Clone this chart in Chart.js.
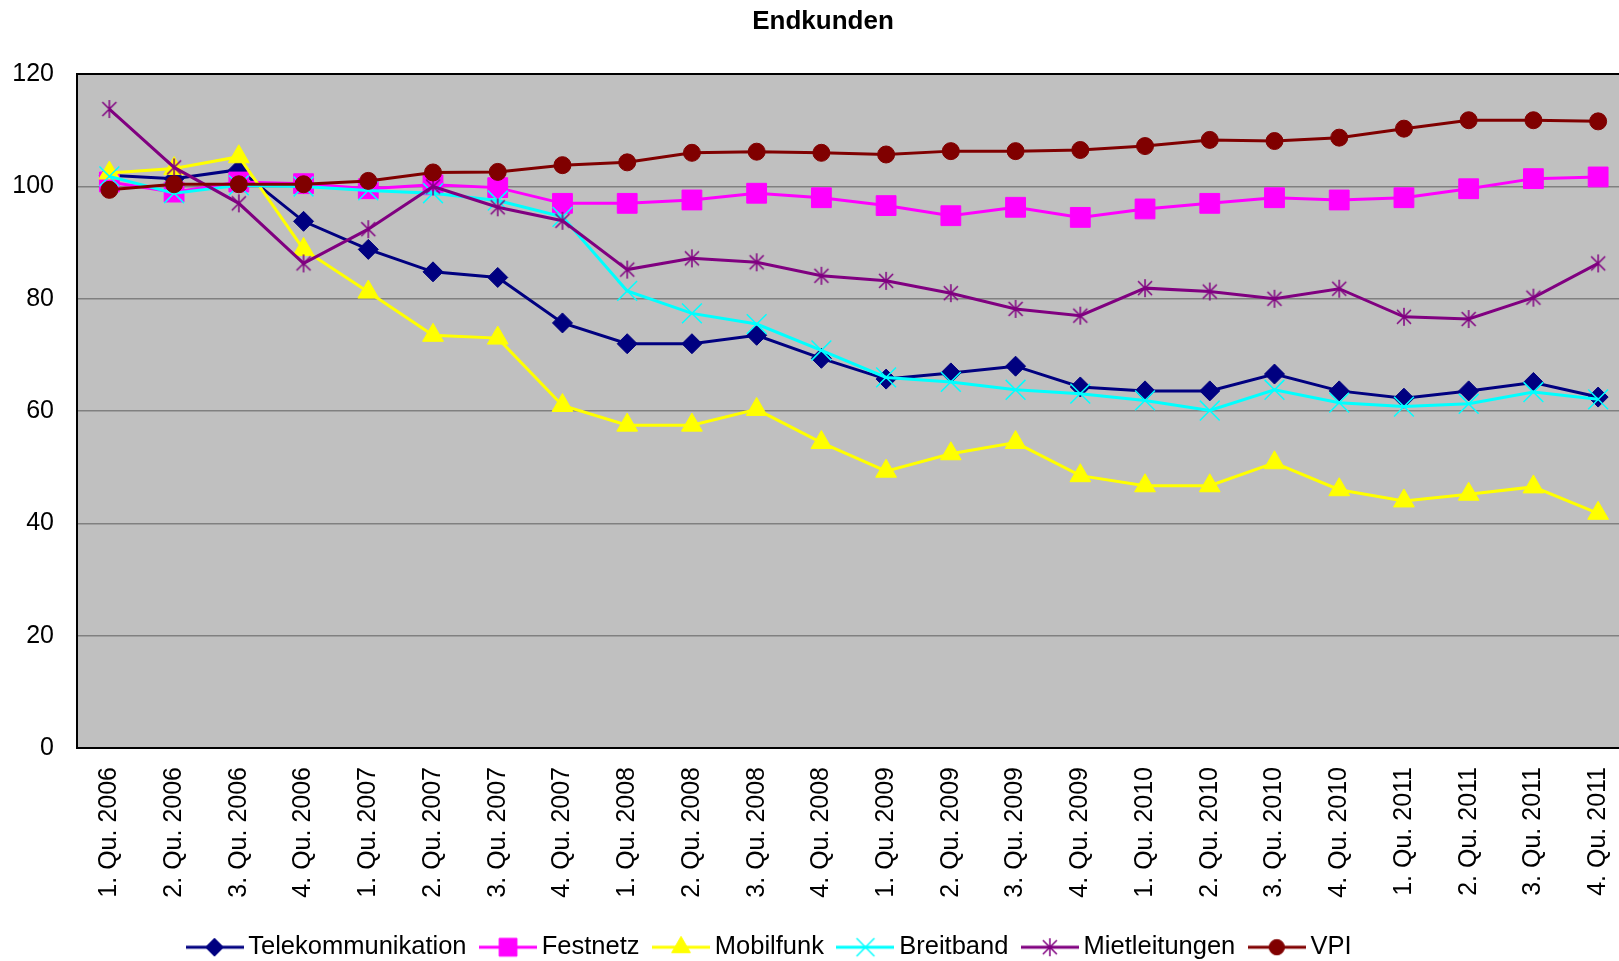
<!DOCTYPE html>
<html>
<head>
<meta charset="utf-8">
<title>Endkunden</title>
<script src="https://cdn.jsdelivr.net/npm/chart.js@4.4.1/dist/chart.umd.min.js"></script>
<style>
  html, body { margin: 0; padding: 0; background: #fff; overflow: hidden; }
  canvas { display: block; }
</style>
</head>
<body>
<canvas id="endkundenChart" width="1646" height="961"></canvas>
<script>
// Quartale 2006 - 2011, Index
const quarters = [
    '1. Qu. 2006', '2. Qu. 2006', '3. Qu. 2006', '4. Qu. 2006',
    '1. Qu. 2007', '2. Qu. 2007', '3. Qu. 2007', '4. Qu. 2007',
    '1. Qu. 2008', '2. Qu. 2008', '3. Qu. 2008', '4. Qu. 2008',
    '1. Qu. 2009', '2. Qu. 2009', '3. Qu. 2009', '4. Qu. 2009',
    '1. Qu. 2010', '2. Qu. 2010', '3. Qu. 2010', '4. Qu. 2010',
    '1. Qu. 2011', '2. Qu. 2011', '3. Qu. 2011', '4. Qu. 2011'
];

const telekommunikation = [102, 101.4, 103, 93.8, 88.8, 84.8, 83.8, 75.7, 72, 72, 73.5, 69.4,
    65.7, 66.8, 68, 64.3, 63.6, 63.6, 66.6, 63.6, 62.3, 63.6, 65.1, 62.5];
const festnetz = [100.8, 99, 100.8, 100.5, 99.6, 100.3, 99.8, 97, 97, 97.6, 98.8, 98,
    96.6, 94.8, 96.3, 94.5, 96, 97, 98, 97.6, 98, 99.6, 101.4, 101.7];
const mobilfunk = [102.4, 103.2, 105.3, 88.8, 81.2, 73.5, 73, 61, 57.5, 57.5, 60.3, 54.4,
    49.3, 52.4, 54.4, 48.5, 46.7, 46.7, 50.8, 46, 44, 45.2, 46.5, 41.8];
const breitband = [101.8, 98.8, 100.2, 100, 99.3, 98.8, 97.5, 94.6, 81.4, 77.4, 75.5, 70.8,
    66, 65.2, 63.8, 63.1, 61.9, 60.1, 63.8, 61.5, 60.8, 61.3, 63.4, 62.1];
const mietleitungen = [113.8, 103.4, 97, 86.3, 92.4, 100, 96.3, 93.9, 85.2, 87.2, 86.5, 84.1,
    83.2, 81, 78.2, 77, 81.9, 81.3, 80, 81.8, 76.8, 76.4, 80.2, 86.3];
const vpi = [99.4, 100.4, 100.4, 100.4, 101, 102.5, 102.6, 103.8, 104.3, 106, 106.2, 106,
    105.7, 106.3, 106.3, 106.5, 107.2, 108.3, 108.1, 108.7, 110.3, 111.8, 111.8, 111.6];

const FONT = '"Liberation Sans", Arial, sans-serif';

// Sternchen (X mit senkrechtem Strich) wie im Excel-Original
function makeAsterisk(color) {
    const c = document.createElement('canvas');
    c.width = 20; c.height = 20;
    const g = c.getContext('2d');
    g.strokeStyle = color;
    g.lineWidth = 1.5;
    g.beginPath();
    g.moveTo(3, 3); g.lineTo(17, 17);
    g.moveTo(17, 3); g.lineTo(3, 17);
    g.moveTo(10, 1); g.lineTo(10, 19);
    g.stroke();
    return c;
}

// Legendensymbol: Linie mit Marker in der Mitte
function legendIcon(ds) {
    const c = document.createElement('canvas');
    c.width = 58; c.height = 26;
    const g = c.getContext('2d');
    g.strokeStyle = ds.borderColor;
    g.lineWidth = 3;
    g.beginPath();
    g.moveTo(0, 13); g.lineTo(58, 13);
    g.stroke();
    g.fillStyle = ds.pointBackgroundColor;
    g.strokeStyle = ds.pointBorderColor;
    g.lineWidth = ds.pointBorderWidth;
    Chart.helpers.drawPoint(g, {
        pointStyle: ds.pointStyle,
        radius: ds.pointRadius * 0.9,
        rotation: 0,
        borderWidth: ds.pointBorderWidth
    }, 29, 13);
    return c;
}

function series(label, data, color, style, radius, order, filled) {
    return {
        label: label,
        data: data,
        borderColor: color,
        backgroundColor: color,
        borderWidth: 3,
        tension: 0,
        fill: false,
        pointStyle: style,
        pointRadius: radius,
        pointHoverRadius: radius,
        pointBackgroundColor: filled ? color : 'transparent',
        pointBorderColor: color,
        pointBorderWidth: filled ? 1 : 1.5,
        order: order
    };
}

const plotBackground = {
    id: 'plotBackground',
    beforeDraw(chart) {
        const { ctx, chartArea: a } = chart;
        ctx.save();
        ctx.fillStyle = '#c0c0c0';
        ctx.fillRect(a.left, a.top, a.right - a.left, a.bottom - a.top);
        ctx.restore();
    }
};

// Legende sitzt im Original etwas links von der Mitte
const legendShift = {
    id: 'legendShift',
    afterLayout(chart) {
        chart.legend.left = 173;
    }
};

const ctx = document.getElementById('endkundenChart');

new Chart(ctx, {
    type: 'line',
    data: {
        labels: quarters,
        datasets: [
            series('Telekommunikation', telekommunikation, '#000080', 'rectRot', 10, 6, true),
            series('Festnetz', festnetz, '#ff00ff', 'rect', 14, 5, true),
            series('Mobilfunk', mobilfunk, '#ffff00', 'triangle', 12, 4, true),
            series('Breitband', breitband, '#00ffff', 'crossRot', 14, 3, false),
            series('Mietleitungen', mietleitungen, '#800080', makeAsterisk('#800080'), 10, 2, false),
            series('VPI', vpi, '#800000', 'circle', 8.5, 1, true)
        ]
    },
    options: {
        responsive: false,
        animation: false,
        layout: {
            padding: { left: 11, right: 11, top: 0, bottom: -9 }
        },
        scales: {
            x: {
                offset: true,
                grid: { display: false },
                border: { display: true, color: '#000', width: 2 },
                ticks: {
                    autoSkip: false,
                    minRotation: 90,
                    maxRotation: 90,
                    padding: 11,
                    color: '#000',
                    font: { family: FONT, size: 25 }
                },
                afterFit(scale) { scale.height = 166; }
            },
            y: {
                min: 0,
                max: 120,
                grid: {
                    drawTicks: false,
                    color: c => (c.tick.value === 120 ? '#000' : '#808080'),
                    lineWidth: c => (c.tick.value === 120 ? 2 : 1.5)
                },
                border: { display: true, color: '#000', width: 2 },
                ticks: {
                    stepSize: 20,
                    padding: 23,
                    color: '#000',
                    font: { family: FONT, size: 25 }
                },
                afterFit(scale) { scale.width = 66; }
            }
        },
        plugins: {
            title: {
                display: true,
                text: 'Endkunden',
                color: '#000',
                font: { family: FONT, size: 26, weight: 'bold' },
                padding: { top: 6, bottom: 37 }
            },
            legend: {
                position: 'bottom',
                align: 'start',
                labels: {
                    usePointStyle: true,
                    pointStyleWidth: 42,
                    padding: 20.5,
                    color: '#000',
                    font: { family: FONT, size: 25.5 },
                    generateLabels(chart) {
                        return chart.data.datasets.map((ds, i) => ({
                            text: ds.label,
                            pointStyle: legendIcon(ds),
                            datasetIndex: i,
                            fontColor: '#000',
                            fillStyle: 'transparent',
                            strokeStyle: 'transparent',
                            lineWidth: 0,
                            hidden: false
                        }));
                    }
                }
            },
            tooltip: { enabled: false }
        }
    },
    plugins: [plotBackground, legendShift]
});
</script>
</body>
</html>
